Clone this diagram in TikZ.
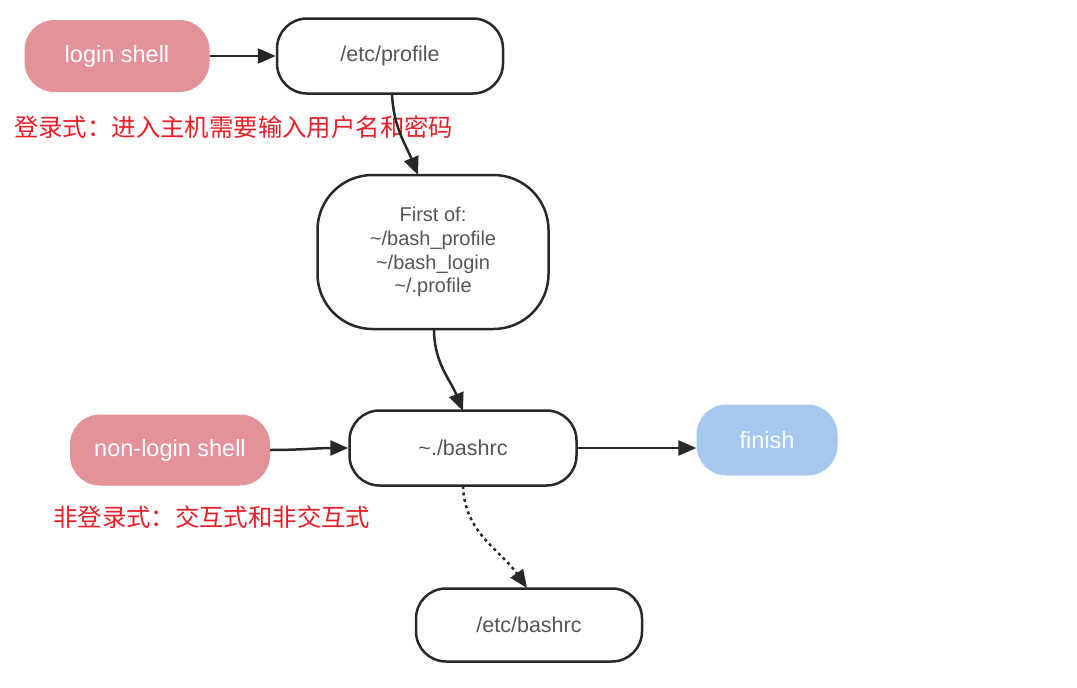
\documentclass[tikz,border=0pt]{standalone}
\usepackage{fontspec}
\setmainfont{Liberation Sans}
\newfontfamily\cjk{Noto Sans CJK SC}
\usetikzlibrary{arrows.meta}
\definecolor{pinkfill}{RGB}{228,146,154}
\definecolor{bluefill}{RGB}{166,200,240}
\definecolor{boxtext}{RGB}{85,85,85}
\definecolor{redtext}{RGB}{232,30,40}
\definecolor{edge}{RGB}{40,40,40}
\tikzset{
  pill/.style={draw=edge, line width=2.5pt, fill=white, rounded corners=30pt,
    text=boxtext, font=\fontsize{21.5}{24}\selectfont, align=center, inner sep=0pt},
  startbox/.style={fill=pinkfill, rounded corners=30pt, text=white,
    font=\fontsize{23.5}{26}\selectfont, inner sep=0pt},
  endbox/.style={fill=bluefill, rounded corners=30pt, text=white,
    font=\fontsize{23.5}{26}\selectfont, inner sep=0pt},
  note/.style={text=redtext, font=\cjk\fontsize{24.4}{28}\selectfont, anchor=west, inner sep=0pt},
  conn/.style={draw=edge, line width=2.5pt, -{Triangle[length=18pt,width=15pt]}},
  dotconn/.style={conn, dash pattern=on 3pt off 3.5pt},
}
\begin{document}
\begin{tikzpicture}[x=1pt,y=-1pt]
\useasboundingbox[fill=white] (0,0) rectangle (1077,688);
\node[startbox, minimum width=185pt, minimum height=72pt] (login) at (117,56) {login shell};
\node[pill, minimum width=226pt, minimum height=75pt] (prof) at (390,56) {/etc/profile};
\node[pill, rounded corners=55pt, minimum width=231pt, minimum height=154pt,
  font=\fontsize{20}{23.7}\selectfont] (first) at (433,252)
  {First of:\\\textasciitilde/bash\_profile\\\textasciitilde/bash\_login\\\textasciitilde/.profile};
\node[pill, minimum width=227pt, minimum height=75pt] (bashrc) at (463,448) {\textasciitilde./bashrc};
\node[startbox, minimum width=200pt, minimum height=71pt] (nonlogin) at (170,450) {non-login shell};
\node[endbox, minimum width=141pt, minimum height=71pt] (finish) at (767,440) {finish};
\node[pill, minimum width=226pt, minimum height=73pt] (etcbashrc) at (529,625) {/etc/bashrc};
\node[note] (n1) at (14,127) {登录式：进入主机需要输入用户名和密码};
\node[note] (n2) at (53,517) {非登录式：交互式和非交互式};
\coordinate (c1) at (392,93);
\coordinate (c2) at (418,175);
\coordinate (c3) at (434,329);
\coordinate (c4) at (463,411);
\coordinate (c5) at (463,486);
\coordinate (c6) at (527,588);
\draw[conn] (login.east) -- (prof.west);
\draw[conn] (c1) to[out=-88,in=112] (c2);
\draw[conn] (c3) to[out=-90,in=112] (c4);
\draw[conn] (nonlogin.east) to[out=0,in=180] (bashrc.west);
\draw[conn] (bashrc.east) -- (finish.west |- bashrc.east);
\draw[dotconn] (c5) to[out=-88,in=125] (c6);
\end{tikzpicture}
\end{document}
